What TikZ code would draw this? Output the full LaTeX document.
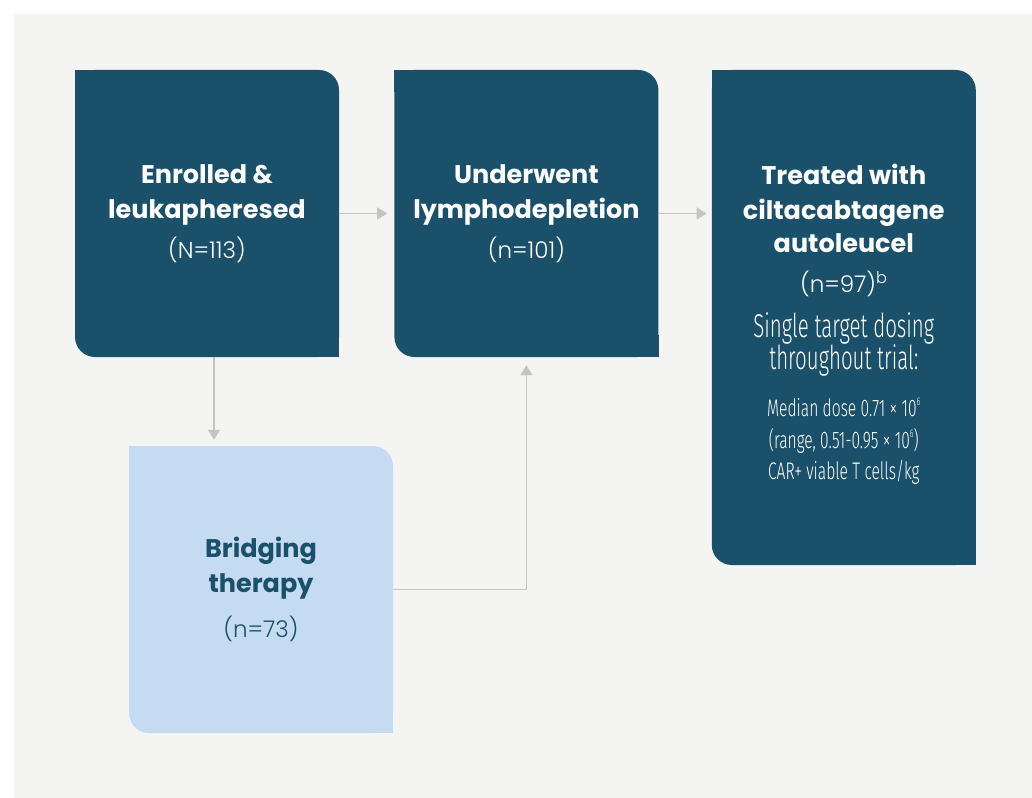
\documentclass[tikz,border=0pt]{standalone}
\usepackage{fontspec}
\setmainfont{Poppins}
\newfontfamily\lightfont{Poppins Light}
\newfontfamily\narrowfont{Fira Sans Light}[FakeStretch=0.62]
\newfontfamily\narrowsmall{Fira Sans Light}[FakeStretch=0.65]
\usetikzlibrary{arrows.meta,positioning}

\definecolor{deepteal}{HTML}{1A5069}
\definecolor{paleblue}{HTML}{C5DBF1}
\definecolor{arrowgray}{HTML}{C4C4C4}
\definecolor{panelgray}{HTML}{F4F4F2}

\newcommand{\tinysup}[1]{\raisebox{0.45em}{\fontsize{11}{11}\selectfont #1}}

\begin{document}
\begin{tikzpicture}[x=1pt,y=-1pt,>={Triangle[length=10pt,width=12pt]},
                    flow/.style={->,draw=arrowgray,line width=1.5pt},
                    every node/.style={align=center,inner sep=0pt}]
  \tikzstyle{card}=[rounded corners=20pt,minimum width=264pt,minimum height=287pt,
                    font=\fontsize{25.5}{35}\selectfont]
  \tikzstyle{darkcard}=[card,fill=deepteal,text=white]
  \tikzstyle{lightcard}=[card,fill=paleblue,text=deepteal]

  \useasboundingbox (0,0) rectangle (1032,797);
  \fill[panelgray] (14,14) rectangle (1040,805);

  \node[darkcard] (enrol) at (207,213.5)
        {\textbf{Enrolled \&}\\\textbf{leukapheresed}\\[5pt]{\lightfont\fontsize{23}{26}\selectfont (N=113)}};
  \node[darkcard] (lympho) [right=55pt of enrol]
        {\textbf{Underwent}\\\textbf{lymphodepletion}\\[5pt]{\lightfont\fontsize{23}{26}\selectfont (n=101)}};
  \node[darkcard,minimum height=495pt] (treated) [right=53pt of lympho.north east,anchor=north west]
        {\rule{0pt}{33pt}\textbf{Treated with}\\\textbf{ciltacabtagene}\\[-2pt]\textbf{autoleucel}\\[5pt]
         {\lightfont\fontsize{23}{26}\selectfont (n=97)\textsuperscript{b}}\\[10pt]
         {\narrowfont\fontsize{33}{33}\selectfont Single target dosing}\\[-3pt]
         {\narrowfont\fontsize{33}{33}\selectfont throughout trial:}\\[12pt]
         {\narrowsmall\fontsize{24}{24}\selectfont Median dose 0.71 × 10\tinysup{6}}\\[-3pt]
         {\narrowsmall\fontsize{24}{24}\selectfont (range, 0.51-0.95 × 10\tinysup{6})}\\[-4pt]
         {\narrowsmall\fontsize{24}{24}\selectfont CAR+ viable T cells/kg}};
  \node[lightcard] (bridge) at (261,589.5)
        {\textbf{Bridging}\\\textbf{therapy}\\[10pt]{\lightfont\fontsize{23}{26}\selectfont (n=73)}};

  % square off the top left and bottom right corners
  \foreach \n/\c in {enrol/deepteal,lympho/deepteal,treated/deepteal,bridge/paleblue}
  {
    \fill[\c] (\n.north west) rectangle ++(22pt,-22pt);
    \fill[\c] (\n.south east) rectangle ++(-22pt,22pt);
  }

  \draw[flow,shorten >=7pt] (enrol.east) -- (lympho.west);
  \draw[flow,shorten >=5pt] (lympho.east) -- (lympho.east -| treated.west);
  \draw[flow,shorten >=6pt] ([xshift=7pt]enrol.south) -- ([xshift=7pt]enrol.south |- bridge.north);
  \draw[flow,shorten >=8pt] (bridge.east) -| (lympho.south);
\end{tikzpicture}
\end{document}
